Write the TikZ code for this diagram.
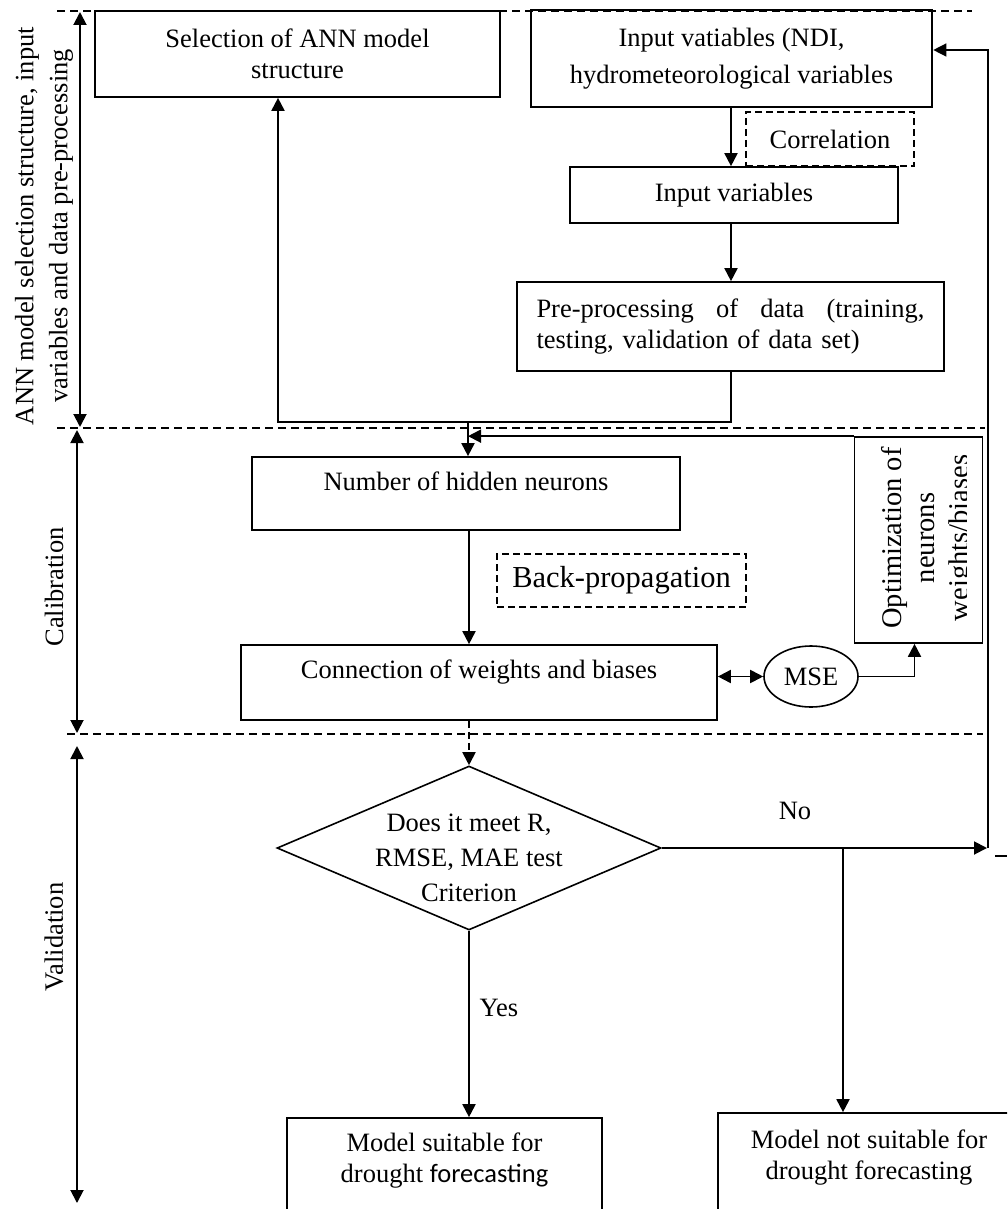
\documentclass[tikz,border=0pt]{standalone}
\usepackage{fontspec}
\setmainfont{Liberation Serif}
\newfontfamily\calfont{Carlito}
\usetikzlibrary{arrows.meta,shapes.geometric,calc}

\begin{document}
\begin{tikzpicture}[x=1pt,y=-1pt,
  every node/.style={font=\fontsize{26.5}{31}\selectfont},
  box/.style={draw, line width=1.7pt, rectangle, inner sep=0pt, align=center},
  dbox/.style={draw, dash pattern=on 7pt off 4pt, line width=1.4pt, rectangle, inner sep=0pt, align=center},
  arr/.style={line width=1.9pt, -{Triangle[length=13pt,width=13pt]}},
  arrtwo/.style={line width=1.9pt, {Triangle[length=13pt,width=13pt]}-{Triangle[length=13pt,width=13pt]}},
  sep/.style={line width=1.6pt, dash pattern=on 8pt off 5pt},
  thinline/.style={line width=1.3pt},
  vlabel/.style={rotate=90, inner sep=0pt, align=center}
]
\useasboundingbox (0,0) rectangle (1007,1209);
\clip (0,0) rectangle (1007,1209);

% section separators
\draw[sep] (57,11) -- (972,11);
\draw[sep] (57,428) -- (985,428);
\draw[sep] (67,734) -- (983,734);

% section extents and titles
\coordinate (a1t) at (80,12);   \coordinate (a1b) at (80,427);
\coordinate (a2t) at (77,430);  \coordinate (a2b) at (77,733);
\coordinate (a3t) at (77,746);  \coordinate (a3b) at (77,1203);
\draw[arrtwo] (a1t) -- (a1b);
\draw[arrtwo] (a2t) -- (a2b);
\draw[arrtwo] (a3t) -- (a3b);
\node[vlabel, font=\fontsize{26.5}{34}\selectfont] (s1) at (44,226)
  {ANN model selection structure, input\\variables and data pre-processing};
\node[vlabel] (s2) at (54,587) {Calibration};
\node[vlabel] (s3) at (54,937) {Validation};

% model structure and input stage
\node[box, minimum width=405pt, minimum height=86pt] (sel) at (297.5,54)
  {Selection of ANN model\\structure};
\node[box, line width=2.6pt, minimum width=401pt, minimum height=97pt,
      font=\fontsize{26.5}{37}\selectfont] (inp) at (731.5,58.5)
  {Input vatiables (NDI,\\hydrometeorological variables};
\node[dbox, minimum width=168pt, minimum height=54pt] (corr) at (830,139) {Correlation};
\node[box, minimum width=328pt, minimum height=56pt] (iv) at (734,195) {Input variables};
\node[box, minimum width=427pt, minimum height=89pt, text width=388pt, align=left] (pre) at (730.5,326.5)
  {\hbox to 388pt{Pre-processing\hfill of\hfill data\hfill (training,}\\testing, validation of data set)};

% calibration stage
\node[box, minimum width=428pt, minimum height=73pt, text height=18pt, text depth=25pt] (num) at (466,493.5)
  {Number of hidden neurons};
\node[dbox, minimum width=249pt, minimum height=53pt, font=\fontsize{30.5}{35}\selectfont] (bp) at (621.5,580.5) {Back-propagation};
\node[box, minimum width=476pt, minimum height=75pt, text height=18pt, text depth=27pt] (conn) at (479,682.5)
  {Connection of weights and biases};
\node[draw, ellipse, line width=1.6pt, minimum width=94pt, minimum height=61pt, inner sep=0pt] (mse) at (811,676.5) {MSE};
\node[box, minimum width=128pt, minimum height=206pt] (opt) at (918.5,540) {};
\begin{scope}
  \clip (856,439) rectangle (966,641);
  \node[vlabel, font=\fontsize{28.5}{33.5}\selectfont] (optt) at (928,538)
    {Optimization of\\neurons\\weights/biases};
\end{scope}

% validation stage
\node[draw, diamond, line width=1.6pt, minimum width=384pt, minimum height=164pt, inner sep=0pt] (crit) at (469,848) {};
\node[inner sep=0pt, align=center, font=\fontsize{26.5}{35}\selectfont] (critt) at (469,858)
  {Does it meet R,\\RMSE, MAE test\\Criterion};
\node[box, minimum width=315pt, minimum height=140pt] (suit) at (444.5,1188) {};
\node[inner sep=0pt, align=center] (suitt) at (444.5,1161)
  {Model suitable for\\drought {\calfont forecasting}};
\node[box, minimum width=302pt, minimum height=140pt] (notsuit) at (869,1183) {};
\node[inner sep=0pt, align=center] (notsuitt) at (869,1158)
  {Model not suitable for\\drought forecasting};
\node[inner sep=0pt] (no) at (795,811) {No};
\node[inner sep=0pt] (yes) at (499,1008) {Yes};

% connectors
\coordinate (j1) at (731,422);
\coordinate (j2) at (278,422);
\coordinate (j3) at (468,422);
\coordinate (fb1) at (987,848);
\coordinate (fb2) at (988,848);
\coordinate (fb3) at (988,50);
\coordinate (nj) at (843,848);
\coordinate (st1) at (995,856);
\coordinate (st2) at (1007,856);

\draw[arr] (inp.south -| j1) -- (iv.north -| j1);
\draw[arr] (iv.south -| j1) -- (pre.north -| j1);
\draw[arr] (pre.south -| j1) -- (j1) -- (j2) -- (sel.south -| j2);
\draw[arr] (j3) -- (num.north -| j3);
\draw[arr] (opt.north west) -- (opt.north west -| j3);
\draw[arr] (num.south -| 469,0) -- (conn.north -| 469,0);
\draw[arrtwo] (conn.east |- mse.west) -- (mse.west);
\draw[arr] (mse.east) -| ([xshift=-4pt]opt.south);
\draw[arr, dash pattern=on 7pt off 4pt] (conn.south -| crit.north) -- (crit.north);
\draw[arr] (crit.south) -- (crit.south |- suit.north);
\draw[arr] (crit.east) -- (fb1);
\draw[arr] (nj) -- (notsuit.north -| nj);
\draw[thinline, -{Triangle[length=13pt,width=13pt]}] (fb2) -- (fb3) -- (fb3 -| inp.east);
\draw[thinline] (st1) -- (st2);
\end{tikzpicture}
\end{document}
